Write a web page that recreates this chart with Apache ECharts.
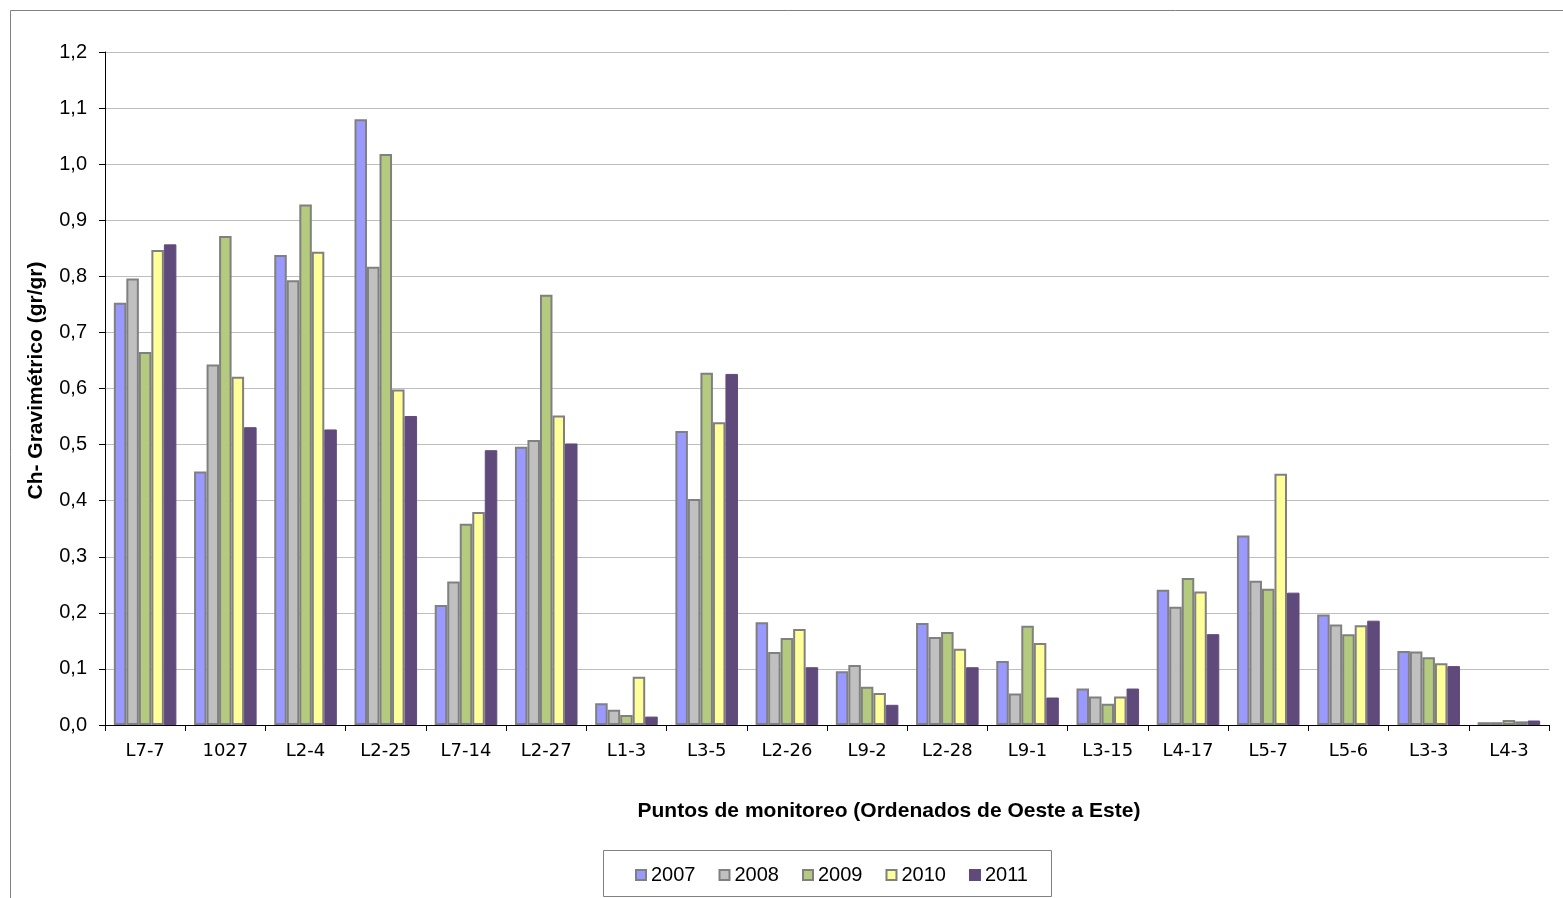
<!DOCTYPE html>
<html>
<head>
<meta charset="utf-8">
<script src="https://cdn.jsdelivr.net/npm/echarts@6/dist/echarts.min.js"></script>
<style>
  html, body { margin: 0; padding: 0; background: #ffffff; }
  #chart { width: 1563px; height: 898px; }
</style>
</head>
<body>
<div id="chart"></div>
<script>
// Monitoring points, ordered west to east
const categories = ['L7-7', '1027', 'L2-4', 'L2-25', 'L7-14', 'L2-27', 'L1-3', 'L3-5', 'L2-26',
  'L9-2', 'L2-28', 'L9-1', 'L3-15', 'L4-17', 'L5-7', 'L5-6', 'L3-3', 'L4-3'];

const years = ['2007', '2008', '2009', '2010', '2011'];

// Ch- gravimetric content (gr/gr) per year
const v2007 = [0.753, 0.452, 0.838, 1.080, 0.214, 0.496, 0.039, 0.524, 0.183, 0.096, 0.182, 0.114, 0.065, 0.241, 0.338, 0.197, 0.132, 0.005];
const v2008 = [0.796, 0.643, 0.793, 0.817, 0.256, 0.508, 0.027, 0.403, 0.130, 0.107, 0.157, 0.056, 0.051, 0.211, 0.257, 0.179, 0.131, 0.005];
const v2009 = [0.665, 0.872, 0.928, 1.018, 0.359, 0.767, 0.018, 0.628, 0.155, 0.068, 0.166, 0.177, 0.038, 0.262, 0.243, 0.162, 0.121, 0.009];
const v2010 = [0.847, 0.621, 0.844, 0.598, 0.380, 0.552, 0.086, 0.540, 0.171, 0.057, 0.136, 0.146, 0.051, 0.238, 0.448, 0.178, 0.110, 0.0065];
const v2011 = [0.857, 0.531, 0.527, 0.551, 0.490, 0.502, 0.015, 0.626, 0.103, 0.036, 0.103, 0.049, 0.065, 0.162, 0.236, 0.186, 0.105, 0.008];

const yTicks = ['0,0', '0,1', '0,2', '0,3', '0,4', '0,5', '0,6', '0,7', '0,8', '0,9', '1,0', '1,1', '1,2'];

const seriesValues = [v2007, v2008, v2009, v2010, v2011];
const fills = ['#9999FF', '#C0C0C0', '#B3CA7F', '#FFFF99', '#604A7B'];
const edges = ['#808080', '#808080', '#808080', '#808080', '#604A7B'];

const font = 'Liberation Sans, Arial, sans-serif';

const chart = echarts.init(document.getElementById('chart'), null, { renderer: 'canvas' });

chart.setOption({
  animation: false,
  backgroundColor: '#ffffff',
  graphic: [
    {
      type: 'rect',
      shape: { x: 10.5, y: 10.5, width: 1570, height: 900 },
      style: { fill: 'none', stroke: '#808080', lineWidth: 1 },
      silent: true
    },
    {
      type: 'rect',
      shape: { x: 603.5, y: 850.5, width: 448, height: 46 },
      style: { fill: '#ffffff', stroke: '#808080', lineWidth: 1 },
      silent: true,
      z: 0
    }
  ],
  grid: { left: 105, right: 14, top: 52, bottom: 173, containLabel: false },
  legend: {
    data: years,
    left: 630,
    top: 860,
    itemWidth: 10,
    itemHeight: 10,
    itemGap: 23,
    icon: 'rect',
    textStyle: { fontFamily: font, fontSize: 20, color: '#000' },
    z: 5
  },
  xAxis: {
    type: 'category',
    data: categories,
    name: 'Puntos de monitoreo (Ordenados de Oeste a Este)',
    nameLocation: 'middle',
    nameGap: 76,
    nameTextStyle: { fontFamily: font, fontSize: 21, fontWeight: 'bold', color: '#000', padding: [0, 0, 0, 124] },
    axisLine: { lineStyle: { color: '#000', width: 1 } },
    axisTick: { show: true, alignWithLabel: false, length: 6, lineStyle: { color: '#000' } },
    axisLabel: { fontFamily: 'DejaVu Sans, sans-serif', fontSize: 18, color: '#000', margin: 17 },
    splitLine: { show: false }
  },
  yAxis: {
    type: 'value',
    min: 0,
    max: 1.2,
    interval: 0.1,
    name: 'Ch- Gravimétrico (gr/gr)',
    nameLocation: 'middle',
    nameGap: 58,
    nameRotate: 90,
    nameTextStyle: { fontFamily: font, fontSize: 21, fontWeight: 'bold', color: '#000', padding: [0, 0, 0, 16] },
    axisLine: { show: true, lineStyle: { color: '#000', width: 1 } },
    axisTick: { show: true, length: 6, lineStyle: { color: '#000' } },
    axisLabel: {
      fontFamily: font, fontSize: 20, color: '#000', margin: 18,
      formatter: function (v) { return yTicks[Math.round(v * 10)]; }
    },
    splitLine: { show: true, lineStyle: { color: '#BEBEBE', width: 1 } }
  },
  series: years.map(function (y, i) {
    return {
      name: y,
      type: 'bar',
      data: seriesValues[i],
      barGap: '0%',
      barCategoryGap: '22%',
      itemStyle: { color: fills[i], borderColor: edges[i], borderWidth: i < 4 ? 2 : 1 }
    };
  })
});
</script>
</body>
</html>
